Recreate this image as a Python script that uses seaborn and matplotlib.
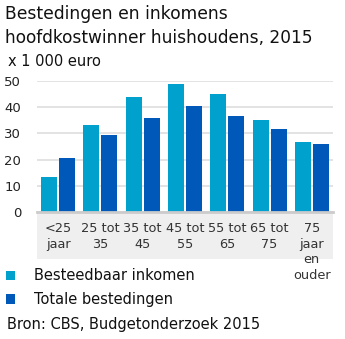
import matplotlib
matplotlib.use("Agg")
import matplotlib.pyplot as plt
import seaborn as sns
import pandas as pd
from matplotlib.patches import Rectangle, Patch

categories = ["<25\njaar", "25 tot\n35", "35 tot\n45", "45 tot\n55", "55 tot\n65", "65 tot\n75", "75\njaar\nen\nouder"]
besteedbaar = [13.5, 33.1, 43.8, 48.8, 45.0, 35.0, 26.9]
totale = [20.8, 29.2, 35.8, 40.4, 36.5, 31.5, 25.8]
series_names = ["Besteedbaar inkomen", "Totale bestedingen"]
colors = ["#00a1cd", "#0058b8"]

df = pd.DataFrame({
    "cat": categories * 2,
    "val": besteedbaar + totale,
    "serie": [series_names[0]] * len(categories) + [series_names[1]] * len(categories),
})

sns.set_theme(style="white")
plt.rcParams['font.family'] = ['DejaVu Sans']

W, H = 345, 339
fig = plt.figure(figsize=(W / 100, H / 100), dpi=100)
ax = fig.add_axes([37 / W, (H - 212) / H, (333 - 37) / W, (212 - 81) / H])

sns.barplot(data=df, x="cat", y="val", hue="serie", palette=colors, order=categories,
            hue_order=series_names, width=0.85, gap=0.11, ax=ax, legend=False,
            saturation=1, edgecolor="none", linewidth=0)

ax.set_ylim(0, 50)
ax.set_xlim(-0.5, len(categories) - 0.5)
ax.set_yticks([0, 10, 20, 30, 40, 50])
ax.yaxis.grid(True, color="#e1e1e1", linewidth=1.3)
ax.set_axisbelow(True)
ax.set_xlabel("")
ax.set_ylabel("")
for s in ["top", "right", "left"]:
    ax.spines[s].set_visible(False)
ax.spines["bottom"].set_color("#cccccc")
ax.spines["bottom"].set_linewidth(2)

ax.tick_params(axis="y", length=0, pad=11.5, labelsize=9.5, labelcolor="#222222")
ax.tick_params(axis="x", which="major", length=0, pad=7.5, labelsize=9.3, labelcolor="#333333")
ax.set_xticks(range(len(categories)))
ax.set_xticklabels(categories, linespacing=1.25, va="top")
ax.set_xticks([i - 0.5 for i in range(len(categories) + 1)], minor=True)
ax.tick_params(axis="x", which="minor", length=7, width=1.3, color="#cccccc", direction="out")

# grey label band
ax.add_patch(Rectangle((0, -47 / 131), 1, 47 / 131, transform=ax.transAxes,
                       facecolor="#efefef", edgecolor="none", clip_on=False, zorder=-5))

fig.text(5 / W, 1 - 14 / H, "Bestedingen en inkomens", fontsize=12.3, va="center", ha="left", color="#111111")
fig.text(5 / W, 1 - 38 / H, "hoofdkostwinner huishoudens, 2015", fontsize=12.25, va="center", ha="left", color="#111111")
fig.text(8 / W, 1 - 62 / H, "x 1 000 euro", fontsize=10.5, va="center", ha="left", color="#111111")

handles = [Patch(facecolor=c, edgecolor="none") for c in colors]
fig.legend(handles, series_names, loc="upper left", bbox_to_anchor=(3 / W, 1 - 265.5 / H),
           frameon=False, fontsize=10.5, handlelength=0.62, handleheight=0.62,
           handletextpad=1.3, labelspacing=0.6, borderpad=0.2, borderaxespad=0,
           labelcolor="#111111")

fig.text(7 / W, 1 - 324 / H, "Bron: CBS, Budgetonderzoek 2015", fontsize=10.5, va="center", ha="left", color="#111111")

fig.savefig("out.png", dpi=100)
